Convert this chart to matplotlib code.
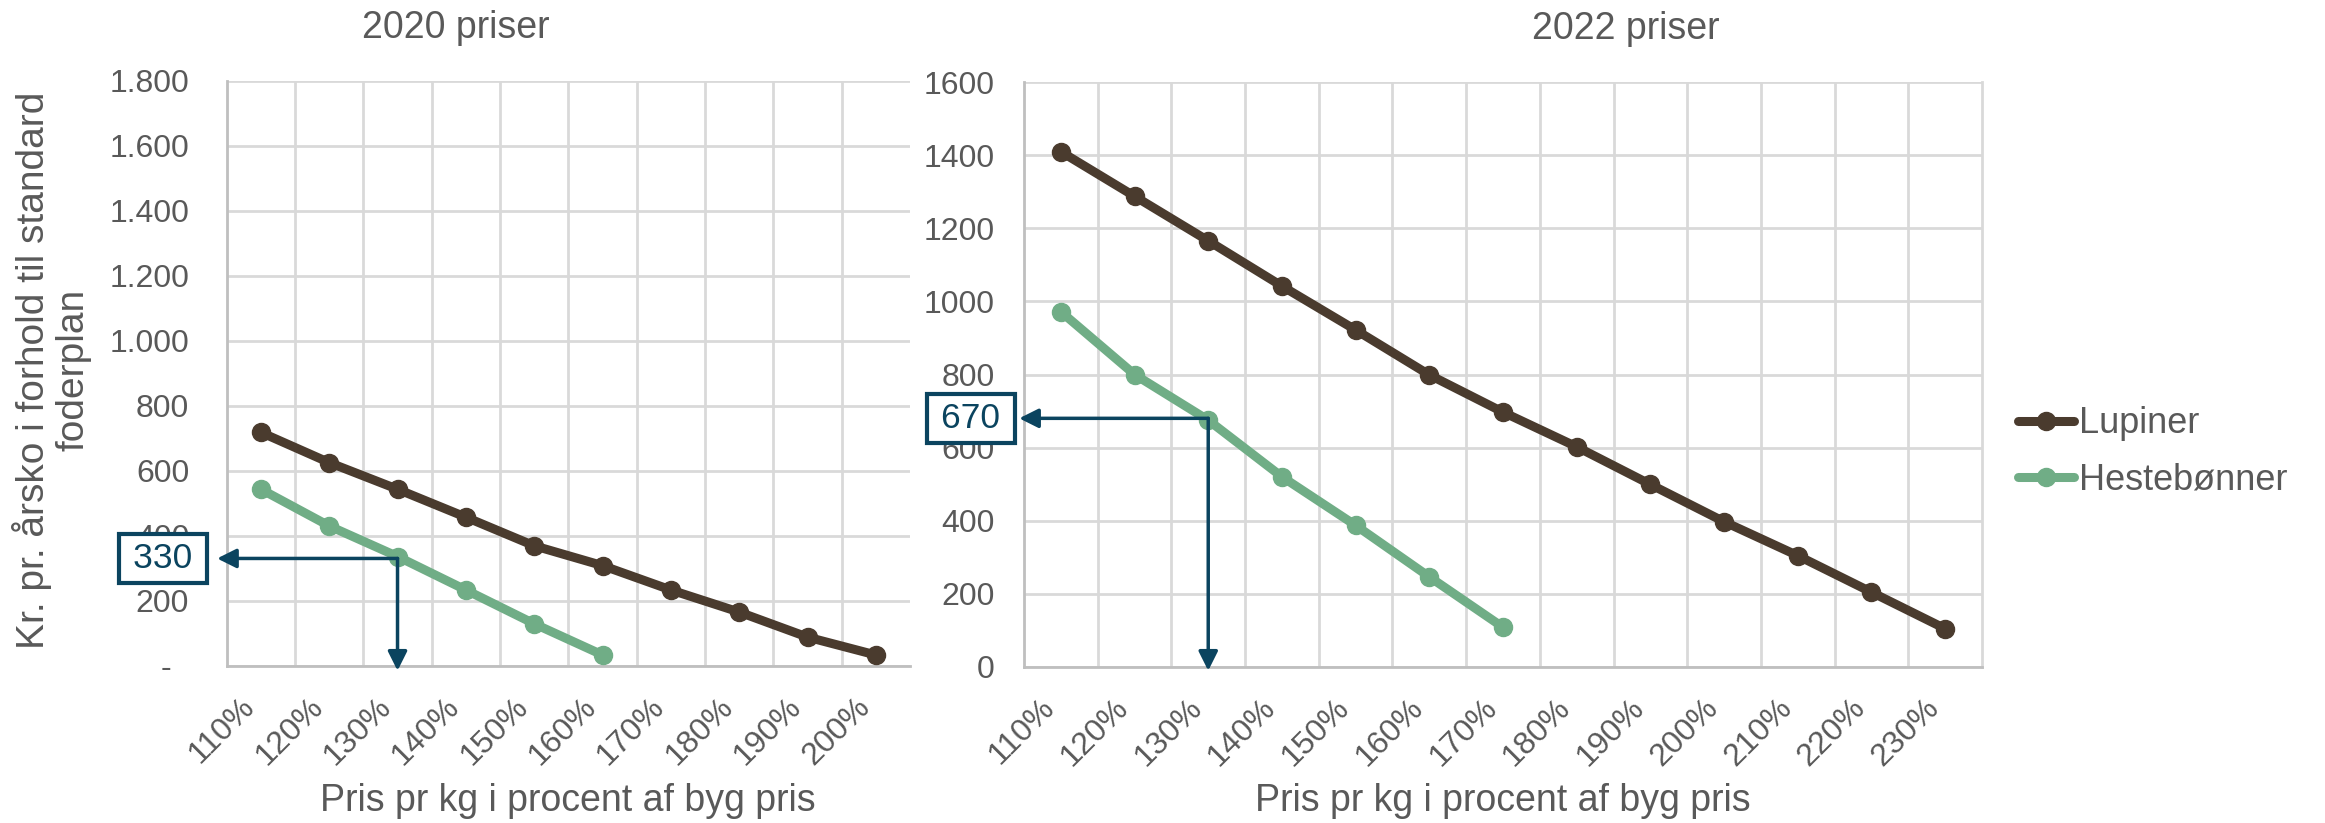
import matplotlib
matplotlib.use('Agg')
import matplotlib.pyplot as plt
from matplotlib.lines import Line2D

matplotlib.rcParams.update({
    'font.family': ['Liberation Sans', 'DejaVu Sans'],
    'text.color': '#595959',
    'xtick.color': '#595959',
    'ytick.color': '#595959',
})

LUPIN_COLOR = '#4A3B2E'
HESTE_COLOR = '#70AD86'
NOTE_COLOR = '#0B445F'
GRID_COLOR = '#D9D9D9'
AXIS_COLOR = '#BFBFBF'

# 2020 priser
labels_2020 = ['110%', '120%', '130%', '140%', '150%', '160%', '170%', '180%', '190%', '200%']
lupiner_2020 = [718, 625, 543, 457, 369, 308, 233, 165, 88, 33]
heste_2020 = [543, 430, 336, 233, 129, 33]
note_2020 = 330
level_2020 = 330
yticks_2020 = [0, 200, 400, 600, 800, 1000, 1200, 1400, 1600, 1800]

# 2022 priser
labels_2022 = ['110%', '120%', '130%', '140%', '150%', '160%', '170%', '180%',
               '190%', '200%', '210%', '220%', '230%']
lupiner_2022 = [1410, 1288, 1166, 1042, 922, 799, 697, 602, 499, 397, 304, 204, 104]
heste_2022 = [972, 800, 675, 520, 387, 246, 108]
note_2022 = 670
level_2022 = 680
yticks_2022 = [0, 200, 400, 600, 800, 1000, 1200, 1400, 1600]

note_idx = 2  # 130%

W, H = 2325, 823
fig = plt.figure(figsize=(W / 100, H / 100), dpi=100)


def fx(px):
    return px / W


def fy(py):
    return 1 - py / H


ax1 = fig.add_axes([fx(226.7), fy(665.7), fx(910 - 226.7), (665.7 - 80.7) / H])
ax2 = fig.add_axes([fx(1024), fy(666.7), fx(1982 - 1024), (666.7 - 82.3) / H])


def dk_fmt(v):
    if v == 0:
        return '-  '
    return f'{v:,}'.replace(',', '.')


def setup(ax, labels, lupin, heste, yticks, ylabels, ypad, edge_grid):
    n = len(labels)
    x = list(range(n))
    ax.plot(x, lupin, color=LUPIN_COLOR, lw=6.5, marker='o', ms=13,
            solid_capstyle='round', zorder=3)
    ax.plot(x[:len(heste)], heste, color=HESTE_COLOR, lw=6.5, marker='o', ms=13,
            solid_capstyle='round', zorder=3)
    ax.set_xlim(-0.5, n - 0.5)
    ax.set_ylim(yticks[0], yticks[-1])
    ax.set_xticks(x)
    ax.set_xticklabels(labels, rotation=45, ha='right', va='top', fontsize=23)
    ax.set_yticks(yticks)
    ax.set_yticklabels(ylabels, fontsize=23)
    bounds = [i + 0.5 for i in range(n - 1)]
    ax.set_xticks(bounds, minor=True)
    ax.grid(True, which='major', axis='y', color=GRID_COLOR, lw=2, zorder=0)
    ax.grid(True, which='minor', axis='x', color=GRID_COLOR, lw=2, zorder=0)
    ax.tick_params(axis='both', which='both', length=0)
    ax.tick_params(axis='x', pad=19)
    ax.tick_params(axis='y', pad=ypad)
    ax.spines['top'].set_visible(False)
    ax.spines['right'].set_visible(edge_grid)
    ax.spines['right'].set_color(GRID_COLOR)
    ax.spines['right'].set_linewidth(2)
    for s in ('left', 'bottom'):
        ax.spines[s].set_color(AXIS_COLOR)
        ax.spines[s].set_linewidth(2)
    ax.set_axisbelow(True)


setup(ax1, labels_2020, lupiner_2020, heste_2020, yticks_2020,
      [dk_fmt(v) for v in yticks_2020], 27, False)
setup(ax2, labels_2022, lupiner_2022, heste_2022, yticks_2022,
      [str(v) for v in yticks_2022], 21, True)


def add_note(ax, note, level, box_x, tip_x, tip_y):
    arrow = dict(arrowstyle='-|>,head_length=0.4,head_width=0.2', color=NOTE_COLOR,
                 lw=2.5, mutation_scale=29, shrinkA=0, shrinkB=0)
    ax.annotate('', xy=(tip_x, level), xycoords=('axes fraction', 'data'),
                xytext=(note_idx, level), textcoords='data',
                arrowprops=arrow, annotation_clip=False, zorder=5)
    ax.annotate('', xy=(note_idx, tip_y), xycoords=('data', 'axes fraction'),
                xytext=(note_idx, level), textcoords='data',
                arrowprops=arrow, annotation_clip=False, zorder=5)
    ax.annotate('\u2009' + str(note) + '\u2009', xy=(box_x, level),
                xycoords=('axes fraction', 'data'),
                ha='center', va='center', fontsize=25.5, color=NOTE_COLOR,
                annotation_clip=False, zorder=6,
                bbox=dict(boxstyle='square,pad=0.22', fc='white', ec=NOTE_COLOR, lw=3))


add_note(ax1, note_2020, level_2020, -0.0932, -0.014, -0.0085)
add_note(ax2, note_2022, level_2022, -0.0553, -0.005, -0.0068)

# titles and axis labels
fig.text(fx(456), fy(38), '2020 priser', ha='center', va='baseline', fontsize=27)
fig.text(fx(1626), fy(39), '2022 priser', ha='center', va='baseline', fontsize=27)
fig.text(fx(568), fy(811), 'Pris pr kg i procent af byg pris', ha='center',
         va='baseline', fontsize=27)
fig.text(fx(1503), fy(811), 'Pris pr kg i procent af byg pris', ha='center',
         va='baseline', fontsize=27)
fig.text(fx(52), fy(370), 'Kr. pr. årsko i forhold til standard\nfoderplan',
         rotation=90, ha='center', va='center', fontsize=28, linespacing=1.12)

handles = [
    Line2D([], [], color=LUPIN_COLOR, lw=6.5, marker='o', ms=13, solid_capstyle='round'),
    Line2D([], [], color=HESTE_COLOR, lw=6.5, marker='o', ms=13, solid_capstyle='round'),
]
fig.legend(handles, ['Lupiner', 'Hestebønner'], loc='center left',
           bbox_to_anchor=(fx(2018), fy(452)), frameon=False, fontsize=26,
           handlelength=1.55, handletextpad=0.15, labelspacing=0.6,
           borderpad=0, borderaxespad=0)

fig.savefig('out.png', dpi=100, facecolor='white')
